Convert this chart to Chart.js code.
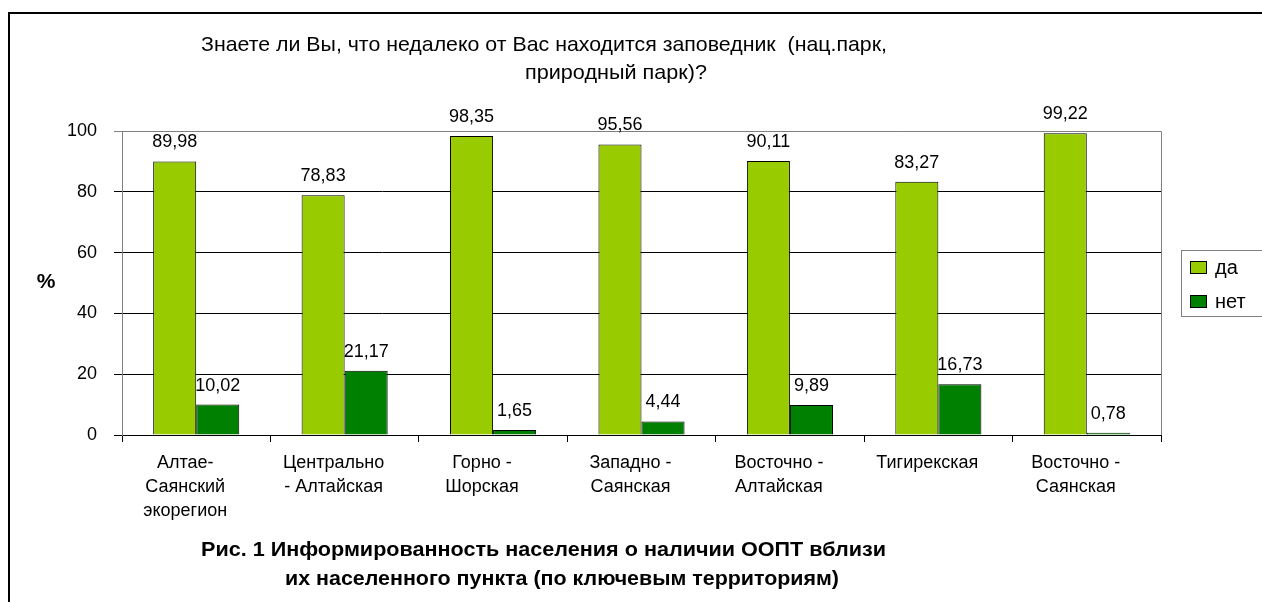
<!DOCTYPE html>
<html>
<head>
<meta charset="utf-8">
<script src="https://cdn.jsdelivr.net/npm/chart.js@4/dist/chart.umd.min.js"></script>
<style>
    body { margin: 0; background: #fff; }
    canvas { display: block; }
</style>
</head>
<body>
<canvas id="awarenessChart" width="1262" height="602"></canvas>
<script>
const regions = [
    ['Алтае-', 'Саянский', 'экорегион'],
    ['Центрально', '- Алтайская'],
    ['Горно -', 'Шорская'],
    ['Западно -', 'Саянская'],
    ['Восточно -', 'Алтайская'],
    'Тигирекская',
    ['Восточно -', 'Саянская']
];
const yesValues = [89.98, 78.83, 98.35, 95.56, 90.11, 83.27, 99.22];
const noValues = [10.02, 21.17, 1.65, 4.44, 9.89, 16.73, 0.78];
const seriesNames = ['да', 'нет'];
const seriesColors = ['#99CC00', '#008000'];
const titleLines = ['Знаете ли Вы, что недалеко от Вас находится заповедник  (нац.парк,', 'природный парк)?'];
const captionLines = ['Рис. 1 Информированность населения о наличии ООПТ вблизи', 'их населенного пункта (по ключевым территориям)'];

const FONT = '"Liberation Sans", Arial, sans-serif';

// draws text squeezed/stretched to a given width (the original looks condensed)
const fitText = (ctx, text, x, y, width) => {
    const m = ctx.measureText(text).width;
    ctx.save();
    ctx.translate(x, y);
    ctx.scale(width / m, 1);
    ctx.fillText(text, 0, 0);
    ctx.restore();
};

const decorPlugin = {
    id: 'decor',
    beforeDraw(chart) {
        const ctx = chart.ctx;
        ctx.save();
        ctx.fillStyle = '#fff';
        ctx.fillRect(0, 0, chart.width, chart.height);
        // outer frame (top and left only visible)
        ctx.strokeStyle = '#000';
        ctx.lineWidth = 2;
        ctx.beginPath();
        ctx.moveTo(1262, 13);
        ctx.lineTo(9, 13);
        ctx.lineTo(9, 602);
        ctx.stroke();
        ctx.restore();
    },
    afterDraw(chart) {
        const ctx = chart.ctx;
        const area = chart.chartArea;
        ctx.save();
        // plot area frame: grey top and right
        ctx.strokeStyle = '#808080';
        ctx.lineWidth = 1;
        ctx.beginPath();
        ctx.moveTo(area.left, Math.round(area.top) + 0.5);
        ctx.lineTo(Math.round(area.right) + 0.5, Math.round(area.top) + 0.5);
        ctx.lineTo(Math.round(area.right) + 0.5, area.bottom);
        ctx.stroke();

        ctx.fillStyle = '#000';
        ctx.textBaseline = 'middle';
        ctx.textAlign = 'left';

        // title
        ctx.font = '21px ' + FONT;
        fitText(ctx, titleLines[0], 201, 45, 686);
        fitText(ctx, titleLines[1], 525, 73, 182);

        // caption
        ctx.font = 'bold 21px ' + FONT;
        fitText(ctx, captionLines[0], 201, 550, 685);
        fitText(ctx, captionLines[1], 285, 579, 554);

        // "%" axis title
        ctx.font = 'bold 21px ' + FONT;
        ctx.textAlign = 'center';
        ctx.fillText('%', 46, 282);

        // value labels above bars
        ctx.font = '18px ' + FONT;
        chart.data.datasets.forEach((ds, i) => {
            const meta = chart.getDatasetMeta(i);
            meta.data.forEach((bar, j) => {
                const txt = ds.data[j].toFixed(2).replace('.', ',');
                ctx.fillText(txt, bar.x, bar.y - 19);
            });
        });

        // legend
        ctx.strokeStyle = '#808080';
        ctx.strokeRect(1181.5, 250.5, 100, 66);
        ctx.textAlign = 'left';
        ctx.font = '20px ' + FONT;
        chart.data.datasets.forEach((ds, i) => {
            const y = 261 + i * 34;
            ctx.fillStyle = ds.backgroundColor;
            ctx.fillRect(1190, y, 17, 13);
            ctx.strokeStyle = '#000';
            ctx.strokeRect(1190.5, y + 0.5, 16, 12);
            ctx.fillStyle = '#000';
            ctx.fillText(ds.label, 1215, y + 7);
        });
        ctx.restore();
    }
};

const ctx = document.getElementById('awarenessChart');

new Chart(ctx, {
    type: 'bar',
    data: {
        labels: regions,
        datasets: [
            {
                label: seriesNames[0],
                data: yesValues,
                backgroundColor: seriesColors[0],
                borderColor: '#000',
                borderWidth: 1,
            },
            {
                label: seriesNames[1],
                data: noValues,
                backgroundColor: seriesColors[1],
                borderColor: '#000',
                borderWidth: 1,
            }
        ],
    },
    options: {
        responsive: false,
        animation: false,
        layout: {
            padding: { top: 131, right: 101, left: 0, bottom: 0 }
        },
        datasets: {
            bar: {
                categoryPercentage: 0.58,
                barPercentage: 1.0,
            }
        },
        scales: {
            x: {
                grid: {
                    display: true,
                    drawOnChartArea: false,
                    offset: true,
                    tickLength: 7,
                    color: '#000',
                },
                border: { color: '#000' },
                ticks: {
                    color: '#000',
                    font: { family: FONT, size: 18, lineHeight: 1.33 },
                    labelOffset: -11,
                    padding: 9,
                    maxRotation: 0,
                    autoSkip: false,
                },
                afterFit: (scale) => { scale.height = 167; }
            },
            y: {
                min: 0,
                max: 100,
                grid: {
                    color: (c) => c.tick && c.tick.value === 100 ? '#808080' : '#000',
                    tickLength: 8,
                },
                border: { color: '#808080' },
                ticks: {
                    stepSize: 20,
                    color: '#000',
                    padding: 17,
                    font: { family: FONT, size: 18 },
                },
                afterFit: (scale) => { scale.width = 122; }
            }
        },
        plugins: {
            legend: { display: false },
            title: { display: false },
            tooltip: { enabled: false }
        }
    },
    plugins: [decorPlugin]
});
</script>
</body>
</html>
